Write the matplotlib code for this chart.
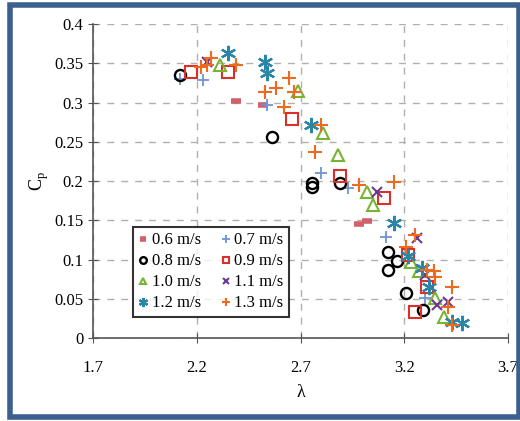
import matplotlib
matplotlib.use("Agg")
import matplotlib.pyplot as plt
from matplotlib.patches import Rectangle

plt.rcParams['font.family'] = ['Liberation Serif', 'DejaVu Serif']

# tip speed ratio (lambda) and power coefficient (Cp) per wind speed
lam_06 = [2.39, 2.52, 2.98, 3.02]
cp_06 = [0.302, 0.297, 0.145, 0.149]

lam_07 = [2.12, 2.23, 2.54, 2.80, 2.93, 3.11, 3.30]
cp_07 = [0.330, 0.329, 0.297, 0.210, 0.191, 0.129, 0.051]

lam_08 = [2.12, 2.56, 2.755, 2.755, 2.89, 3.12, 3.165, 3.12, 3.21, 3.29]
cp_08 = [0.335, 0.256, 0.197, 0.192, 0.197, 0.109, 0.098, 0.087, 0.058, 0.036]

lam_09 = [2.17, 2.35, 2.66, 2.89, 3.10, 3.22, 3.31, 3.25]
cp_09 = [0.339, 0.339, 0.279, 0.206, 0.178, 0.106, 0.065, 0.033]

lam_10 = [2.31, 2.69, 2.81, 2.88, 3.02, 3.05, 3.23, 3.27, 3.35, 3.39]
cp_10 = [0.348, 0.315, 0.261, 0.233, 0.186, 0.169, 0.097, 0.085, 0.051, 0.027]

lam_11 = [2.25, 3.07, 3.26, 3.30, 3.36, 3.41]
cp_11 = [0.352, 0.186, 0.127, 0.080, 0.042, 0.046]

lam_12 = [2.35, 2.53, 2.54, 2.75, 3.15, 3.22, 3.285, 3.32, 3.43, 3.48]
cp_12 = [0.363, 0.352, 0.338, 0.271, 0.146, 0.105, 0.089, 0.065, 0.021, 0.019]

lam_13 = [2.22, 2.25, 2.27, 2.39, 2.53, 2.58, 2.645, 2.67, 2.62, 2.80, 2.77,
          2.98, 3.15, 3.21, 3.25, 3.31, 3.345, 3.35, 3.43, 3.41, 3.43]
cp_13 = [0.345, 0.348, 0.357, 0.348, 0.313, 0.318, 0.331, 0.313, 0.294, 0.271, 0.237,
         0.195, 0.199, 0.116, 0.131, 0.087, 0.085, 0.078, 0.065, 0.040, 0.017]

fig = plt.figure(figsize=(5.2, 4.21), dpi=100)
ax = fig.add_axes([0.179, 0.197, 0.798, 0.746])

ms = 8
h06, = ax.plot(lam_06, cp_06, ls='none', marker='_', ms=7, mew=4, color='#d0606a', label='0.6 m/s')
h07, = ax.plot(lam_07, cp_07, ls='none', marker='+', ms=ms + 1, mew=1.3, color='#6f93d6', label='0.7 m/s')
h08, = ax.plot(lam_08, cp_08, ls='none', marker='o', ms=ms, mew=1.7, mfc='none', color='black', label='0.8 m/s')
h09, = ax.plot(lam_09, cp_09, ls='none', marker='s', ms=ms, mew=1.5, mfc='none', color='#d9302c', label='0.9 m/s')
h10, = ax.plot(lam_10, cp_10, ls='none', marker='^', ms=ms, mew=1.5, mfc='none', color='#79b334', label='1.0 m/s')
h11, = ax.plot(lam_11, cp_11, ls='none', marker='x', ms=ms - 1, mew=1.5, color='#6a3a95', label='1.1 m/s')
h12, = ax.plot(lam_12, cp_12, ls='none', marker=(6, 2, 0), ms=ms + 3, mew=1.6, color='#2a86a8', label='1.2 m/s')
h13, = ax.plot(lam_13, cp_13, ls='none', marker='+', ms=ms + 2, mew=1.5, color='#ee6a1f', label='1.3 m/s')

ax.set_xlim(1.7, 3.7)
ax.set_ylim(0, 0.4)
ax.set_xticks([1.7, 2.2, 2.7, 3.2, 3.7])
ax.set_yticks([0, 0.05, 0.1, 0.15, 0.2, 0.25, 0.3, 0.35, 0.4])
ax.set_yticklabels(['0', '0.05', '0.1', '0.15', '0.2', '0.25', '0.3', '0.35', '0.4'])
ax.grid(True, ls=(0, (5, 5)), color='#b0b0b0', lw=1)
ax.set_axisbelow(True)
for s in ['top', 'right']:
    ax.spines[s].set_visible(False)
for s in ['left', 'bottom']:
    ax.spines[s].set_color('#555555')
    ax.spines[s].set_linewidth(1.2)
ax.tick_params(direction='inout', length=7, color='#555555', labelsize=12)
ax.tick_params(axis='x', pad=12)
ax.set_xlabel('λ', fontsize=13, labelpad=6)
ax.set_ylabel('C$_\\mathregular{p}$', fontsize=13, labelpad=2)

# legend filled row by row: column 1 then column 2
handles = [h06, h08, h10, h12, h07, h09, h11, h13]
leg = ax.legend(handles=handles, ncol=2, loc='lower left', bbox_to_anchor=(0.075, 0.04),
                fontsize=12, frameon=True, fancybox=False, edgecolor='black',
                handlelength=0.6, handletextpad=0.2, columnspacing=1.2,
                labelspacing=0.3, borderpad=0.35, markerscale=0.6)
leg.get_frame().set_linewidth(1.5)

fig.patches.append(Rectangle((0.019, 0.01), 0.979, 0.978, transform=fig.transFigure,
                             fill=False, edgecolor='#3b6090', lw=4, zorder=0))

fig.savefig('out.png', dpi=100)
